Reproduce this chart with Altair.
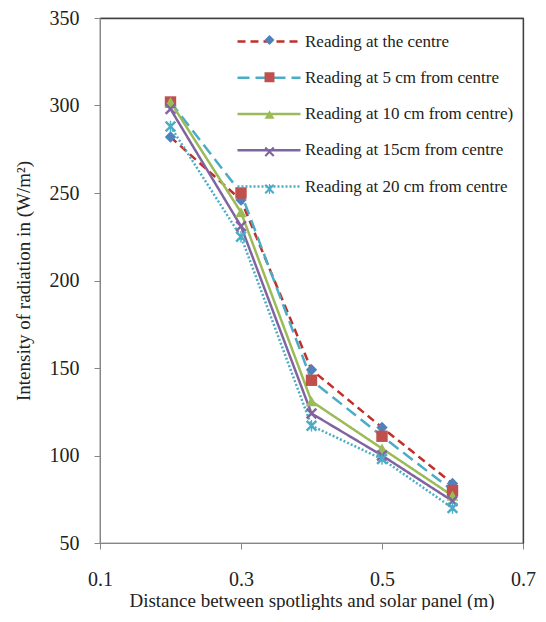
import altair as alt
import pandas as pd

distance = [0.2, 0.3, 0.4, 0.5, 0.6]
series_names = [
    "Reading at the centre",
    "Reading at 5 cm from centre",
    "Reading at 10 cm from centre)",
    "Reading at 15cm from centre",
    "Reading at 20 cm from centre",
]
marker_keys = ["m0", "m1", "m2", "m3", "m4"]
centre = [282, 246, 149, 116, 84]
cm5 = [302, 250, 143, 111, 80]
cm10 = [302, 239, 131, 104, 77]
cm15 = [298, 231, 124, 100, 74]
cm20 = [288, 225, 117, 98, 70]

line_colors = ["#C0302B", "#4BACC6", "#9BBB59", "#8064A2", "#4BACC6"]
line_dashes = [[8, 5], [12, 6], [1, 0], [1, 0], [2, 2]]
marker_colors = ["#4F81BD", "#C0504D", "#9BBB59", "#8064A2", "#4BACC6"]
X_PATH = "M-1,-0.7L-0.3,0L-1,0.7L-0.7,1L0,0.3L0.7,1L1,0.7L0.3,0L1,-0.7L0.7,-1L0,-0.3L-0.7,-1Z"
AST_PATH = X_PATH + "M-0.12,-1L-0.12,1L0.12,1L0.12,-1Z"
marker_shapes = ["diamond", "square", "triangle-up", X_PATH, AST_PATH]

rows = []
for name, key, vals in zip(series_names, marker_keys, [centre, cm5, cm10, cm15, cm20]):
    for d, v in zip(distance, vals):
        rows.append({"series": name, "marker": key, "distance": d, "intensity": v})
df = pd.DataFrame(rows)

FONT = "Liberation Serif"
TXT = "#222222"
AX = "#868686"
FRAME = "#404040"

x_scale = alt.Scale(domain=[0.1, 0.7], nice=False, zero=False)
y_scale = alt.Scale(domain=[50, 350], nice=False, zero=False)

x_enc = alt.X(
    "distance:Q", scale=x_scale,
    axis=alt.Axis(
        values=[0.1, 0.3, 0.5, 0.7], format=".1f", labelFlush=False,
        title="Distance between spotlights and solar panel (m)",
        grid=False, domainColor=AX, tickColor=AX, tickSize=6,
        labelFont=FONT, labelFontSize=20, labelColor=TXT, labelPadding=20,
        titleFont=FONT, titleFontSize=19, titleFontWeight="normal", titleColor=TXT,
        titlePadding=2,
    ),
)
y_enc = alt.Y(
    "intensity:Q", scale=y_scale,
    axis=alt.Axis(
        values=[50, 100, 150, 200, 250, 300, 350], labelFlush=False,
        title="Intensity of radiation in (W/m²)",
        grid=False, domainColor=AX, tickColor=AX, tickSize=6,
        labelFont=FONT, labelFontSize=20, labelColor=TXT, labelPadding=15,
        titleFont=FONT, titleFontSize=19, titleFontWeight="normal", titleColor=TXT,
        titlePadding=16,
    ),
)

line_legend = alt.Legend(
    title=None, orient="none", legendX=157, legendY=11.5,
    symbolType="M-3,0H3", symbolSize=441, symbolStrokeWidth=2.5,
    labelFont=FONT, labelFontSize=17, labelColor=TXT, labelOffset=24, labelLimit=400,
    rowPadding=16.25, padding=0, zindex=1,
)
shape_legend = alt.Legend(
    title=None, orient="none", legendX=161, legendY=13.5,
    symbolSize=100, symbolStrokeWidth=0,
    labelFont=FONT, labelFontSize=17, labelColor="transparent", labelLimit=400,
    rowPadding=19.25, padding=0, zindex=2,
)

lines = alt.Chart(df).mark_line(strokeWidth=2.5).encode(
    x=x_enc,
    y=y_enc,
    stroke=alt.Stroke("series:N", scale=alt.Scale(domain=series_names, range=line_colors), legend=line_legend),
    strokeDash=alt.StrokeDash("series:N", scale=alt.Scale(domain=series_names, range=line_dashes), legend=line_legend),
)

points = alt.Chart(df).mark_point(filled=True, size=130, opacity=1, strokeWidth=0).encode(
    x=alt.X("distance:Q", scale=x_scale, axis=None),
    y=alt.Y("intensity:Q", scale=y_scale, axis=None),
    fill=alt.Fill("marker:N", scale=alt.Scale(domain=marker_keys, range=marker_colors), legend=shape_legend),
    shape=alt.Shape("marker:N", scale=alt.Scale(domain=marker_keys, range=marker_shapes), legend=shape_legend),
)

frame = alt.Chart(df).mark_point(opacity=0).encode(
    x=alt.X("distance:Q", scale=x_scale, axis=alt.Axis(
        orient="top", labels=False, ticks=False, title=None, grid=False,
        domainColor=FRAME, domainWidth=1.3)),
    y=alt.Y("intensity:Q", scale=y_scale, axis=alt.Axis(
        orient="right", labels=False, ticks=False, title=None, grid=False,
        domainColor=FRAME, domainWidth=1.3)),
)

chart = alt.layer(lines, points, frame).resolve_axis(
    x="independent", y="independent"
).properties(
    width=528, height=602,
    autosize=alt.AutoSizeParams(type="fit", contains="padding"),
    padding={"left": 6, "top": 0, "right": 0, "bottom": 0},
).configure_view(stroke=FRAME, strokeWidth=1.2)

chart.save("out.html", embed_options={"renderer": "svg", "actions": False})
